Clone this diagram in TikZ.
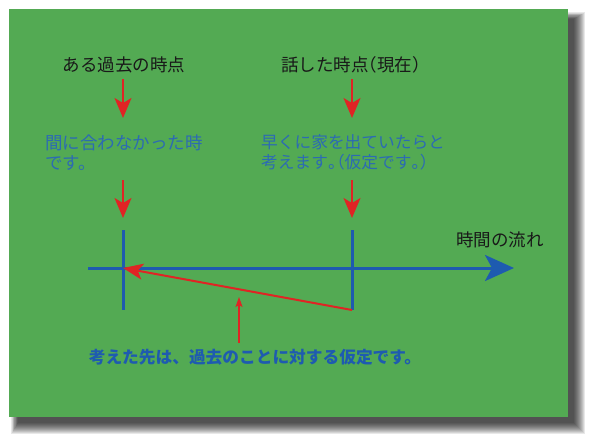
\documentclass[tikz,border=0pt]{standalone}
\usepackage{fontspec}
\usepackage{xcolor}
\usepackage{tikz}
\usetikzlibrary{positioning,arrows.meta,calc}
\newfontfamily\jp{Noto Sans CJK JP}
\newcommand\hw[1]{{\addfontfeature{RawFeature=+halt}#1}}
\definecolor{board}{HTML}{53AA53}
\definecolor{ink}{HTML}{1E5BB0}
\definecolor{note}{HTML}{2C6BB3}
\definecolor{alarm}{HTML}{E02424}
\tikzset{
  head/.style ={font=\jp\fontsize{17.5}{20}\selectfont, text=black!90, inner sep=0pt},
  txt/.style  ={font=\jp\fontsize{17.5}{19.5}\selectfont, text=note, inner sep=0pt, align=left},
  bold/.style ={font=\jp\bfseries\fontsize{16.7}{20}\selectfont, text=ink, inner sep=0pt},
  drop/.style ={-{Stealth[length=20pt, width=17pt, inset=5pt]}, draw=alarm, fill=alarm, line width=2pt},
  tickline/.style ={draw=ink, line width=3pt},
  axis/.style ={-{Stealth[length=29pt, width=26pt, inset=7pt]}, draw=ink, fill=ink, line width=3pt},
  back/.style ={-{Stealth[length=20pt, width=16pt, inset=5pt]}, draw=alarm, fill=alarm, line width=2pt},
  hint/.style ={-{Stealth[length=10pt, width=7pt, inset=2pt]}, draw=alarm, fill=alarm, line width=1.3pt},
}

\begin{document}
\begin{tikzpicture}[x=1pt, y=-1pt]
        \useasboundingbox (0,0) rectangle (589,439);
        % soft shadow and board
        \foreach \s in {0,1,...,11}
          \fill[black, opacity=0.09] (18-0.6*\s,19-0.6*\s) rectangle (574+\s,423+\s);
        \fill[board] (9,9) rectangle (568,417);

        % labels
        \node[head] (pastlab) at (124,65) {ある過去の時点};
        \node[head] (nowlab)  at (351,65) {話した時点\hw{（}現在\hw{）}};
        \node[txt,anchor=west] (pasttxt) at (45,152.5) {間に合わなかった時\\です。};
        \node[txt,anchor=west,font=\jp\fontsize{16.7}{19.5}\selectfont] (nowtxt) at (261,152.5)
          {早くに家を出ていたらと\\考えます\hw{。（}仮定です\hw{。）}};
        \node[head] (flow) at (500,240) {時間の流れ};
        \node[bold] (sum)  at (255,357) {考えた先は、過去のことに対する仮定です。};

        % points on the time line
        \coordinate (p1) at (123,79);   \coordinate (p2) at (123,118);
        \coordinate (p3) at (123,180);  \coordinate (p4) at (123,218);
        \coordinate (n1) at (352,79);   \coordinate (n2) at (352,118);
        \coordinate (n3) at (352,180);  \coordinate (n4) at (352,218);
        \coordinate (pt) at (123,230);  \coordinate (pb) at (123,310);
        \coordinate (nt) at (352,230);  \coordinate (nb) at (352,310);
        \coordinate (a0) at (88,268);   \coordinate (a1) at (514,268);
        \coordinate (pc) at (123,268);
        \coordinate (h0) at (239,343);  \coordinate (h1) at (239,297);

        \draw[drop] (p1) -- (p2);
        \draw[drop] (p3) -- (p4);
        \draw[drop] (n1) -- (n2);
        \draw[drop] (n3) -- (n4);
        \draw[axis] (a0) -- (a1);
        \draw[tickline] (pt) -- (pb);
        \draw[tickline] (nt) -- (nb);
        \draw[back] (nb) -- (pc);
        \draw[hint] (h0) -- (h1);
      \end{tikzpicture}
\end{document}
